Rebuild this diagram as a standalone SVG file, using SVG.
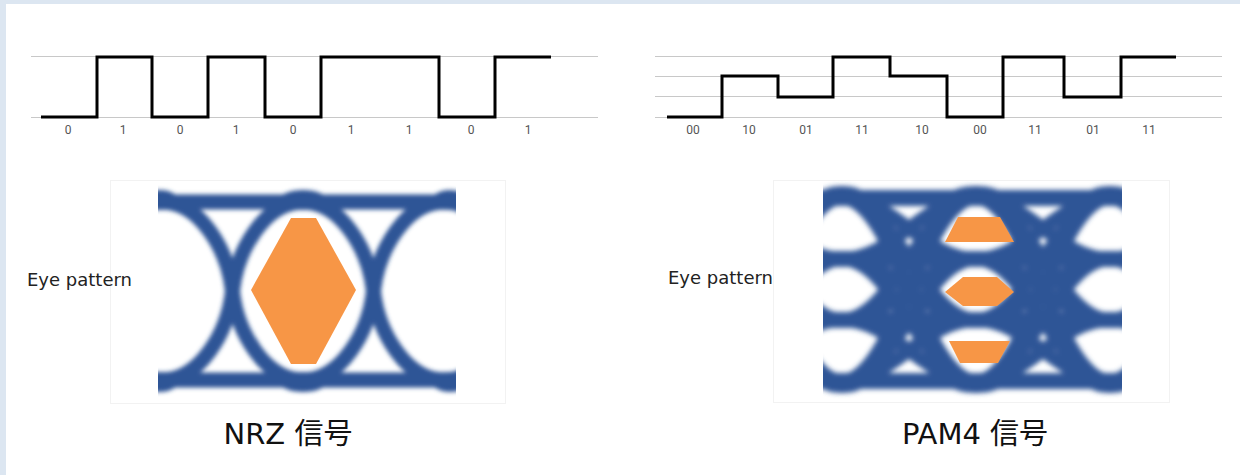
<svg xmlns="http://www.w3.org/2000/svg" xmlns:xlink="http://www.w3.org/1999/xlink" width="1240" height="475" viewBox="0 0 1240 475">
<style>
.grid{stroke:#c8c8c8;stroke-width:1;fill:none}
.wave{stroke:#000;stroke-width:3;fill:none;stroke-linejoin:miter}
.bit{font-family:Roboto,"Liberation Sans",sans-serif;font-size:12px;fill:#555;text-anchor:middle}
.lbl{font-family:"DejaVu Sans","Liberation Sans",sans-serif;font-size:18px;fill:#222}
.title{font-family:"DejaVu Sans","Noto Sans CJK JP",sans-serif;font-size:29px;fill:#111;text-anchor:middle}
.eye{stroke:#2e5596;fill:none}
.eyefill{fill:#2e5596}
.eyebox{fill:#fff;stroke:#f2f2f2;stroke-width:1}
.open{fill:#f79646}
</style>
<defs>
<filter id="blur" x="-5%" y="-5%" width="110%" height="110%"><feGaussianBlur stdDeviation="2"/></filter>
<filter id="blur2" x="-5%" y="-5%" width="110%" height="110%"><feGaussianBlur stdDeviation="2.4"/></filter>
<clipPath id="clipNrz"><rect x="158" y="180" width="298" height="220"/></clipPath>
<clipPath id="clipPam"><rect x="823" y="180" width="299" height="220"/></clipPath>
<g id="nrzSeg" class="eye" stroke-width="15">
<path d="M0,202 C38,202 66,250 70.5,291 C75,332 103,380 141,380"/>
<path d="M0,380 C38,380 66,332 70.5,291 C75,250 103,202 141,202"/>
</g>
<g id="pamSeg" class="eye" stroke-width="14">
<path d="M0,198 C52,198 82,259 134,259"/>
<path d="M0,198 C52,198 82,320 134,320"/>
<path d="M0,198 C52,198 82,381 134,381"/>
<path d="M0,259 C52,259 82,198 134,198"/>
<path d="M0,259 C52,259 82,320 134,320"/>
<path d="M0,259 C52,259 82,381 134,381"/>
<path d="M0,320 C52,320 82,198 134,198"/>
<path d="M0,320 C52,320 82,259 134,259"/>
<path d="M0,320 C52,320 82,381 134,381"/>
<path d="M0,381 C52,381 82,198 134,198"/>
<path d="M0,381 C52,381 82,259 134,259"/>
<path d="M0,381 C52,381 82,320 134,320"/>
</g>
</defs>
<rect x="0" y="0" width="1240" height="475" fill="#dce6f1"/>
<rect x="6" y="4" width="1234" height="471" fill="#fff"/>

<g id="nrz-wave">
<line class="grid" x1="31" y1="56.5" x2="598" y2="56.5"/>
<line class="grid" x1="31" y1="117.5" x2="598" y2="117.5"/>
<polyline class="wave" points="41,117 97,117 97,57 152,57 152,117 208,117 208,57 265,57 265,117 321,117 321,57 377,57 439,57 439,117 495,117 495,57 551,57"/>
<text class="bit" x="68" y="134">0</text>
<text class="bit" x="123" y="134">1</text>
<text class="bit" x="180" y="134">0</text>
<text class="bit" x="236" y="134">1</text>
<text class="bit" x="293" y="134">0</text>
<text class="bit" x="351" y="134">1</text>
<text class="bit" x="409" y="134">1</text>
<text class="bit" x="471" y="134">0</text>
<text class="bit" x="528" y="134">1</text>
</g>

<g id="pam4-wave">
<line class="grid" x1="655" y1="56.5" x2="1222" y2="56.5"/>
<line class="grid" x1="655" y1="76.5" x2="1222" y2="76.5"/>
<line class="grid" x1="655" y1="96.5" x2="1222" y2="96.5"/>
<line class="grid" x1="655" y1="117.5" x2="1222" y2="117.5"/>
<polyline class="wave" points="667,117 722,117 722,76 778,76 778,97 833,97 833,57 890,57 890,76 947,76 947,117 1003,117 1003,57 1064,57 1064,97 1121,97 1121,57 1176,57"/>
<text class="bit" x="693" y="134">00</text>
<text class="bit" x="749" y="134">10</text>
<text class="bit" x="806" y="134">01</text>
<text class="bit" x="862" y="134">11</text>
<text class="bit" x="922" y="134">10</text>
<text class="bit" x="980" y="134">00</text>
<text class="bit" x="1035" y="134">11</text>
<text class="bit" x="1093" y="134">01</text>
<text class="bit" x="1149" y="134">11</text>
</g>

<g id="nrz-eye">
<rect class="eyebox" x="110.5" y="180.5" width="395" height="223"/>
<g clip-path="url(#clipNrz)">
<g filter="url(#blur)">
<line class="eye" stroke-width="15" x1="140" y1="202" x2="480" y2="202"/>
<line class="eye" stroke-width="15" x1="140" y1="380" x2="480" y2="380"/>
<ellipse class="eyefill" cx="303" cy="200" rx="24" ry="10"/>
<ellipse class="eyefill" cx="303" cy="382" rx="24" ry="10"/>
<ellipse class="eyefill" cx="160" cy="200" rx="18" ry="10"/>
<ellipse class="eyefill" cx="160" cy="382" rx="18" ry="10"/>
<ellipse class="eyefill" cx="450" cy="200" rx="18" ry="10"/>
<ellipse class="eyefill" cx="450" cy="382" rx="18" ry="10"/>
<use xlink:href="#nrzSeg" x="21"/>
<use xlink:href="#nrzSeg" x="162"/>
<use xlink:href="#nrzSeg" x="303"/>
<use xlink:href="#nrzSeg" x="444"/>
</g>
</g>
<polygon class="open" points="291,218 316,218 356,290 316,364 291,364 251,290"/>
<text class="lbl" x="27" y="286">Eye pattern</text>
</g>

<g id="pam4-eye">
<rect class="eyebox" x="773.5" y="180.5" width="396" height="222"/>
<g clip-path="url(#clipPam)">
<g filter="url(#blur2)">
<line class="eye" stroke-width="16" x1="800" y1="198" x2="1140" y2="198"/>
<line class="eye" stroke-width="16" x1="800" y1="259" x2="1140" y2="259"/>
<line class="eye" stroke-width="16" x1="800" y1="320" x2="1140" y2="320"/>
<line class="eye" stroke-width="16" x1="800" y1="381" x2="1140" y2="381"/>
<ellipse class="eyefill" cx="976" cy="196" rx="28" ry="10"/>
<ellipse class="eyefill" cx="976" cy="383" rx="28" ry="10"/>
<ellipse class="eyefill" cx="842" cy="196" rx="24" ry="10"/>
<ellipse class="eyefill" cx="842" cy="383" rx="24" ry="10"/>
<ellipse class="eyefill" cx="1110" cy="196" rx="24" ry="10"/>
<ellipse class="eyefill" cx="1110" cy="383" rx="24" ry="10"/>
<use xlink:href="#pamSeg" x="708"/>
<use xlink:href="#pamSeg" x="842"/>
<use xlink:href="#pamSeg" x="976"/>
<use xlink:href="#pamSeg" x="1110"/>
</g>
</g>
<polygon class="open" points="958,217 1000,217 1014,242 945,242"/>
<polygon class="open" points="963,277 997,277 1014,292 997,306 963,306 945,292"/>
<polygon class="open" points="949,341 1010,341 998,363 960,363"/>
<text class="lbl" x="668" y="284">Eye pattern</text>
</g>

<g id="titles">
<text class="title" x="288" y="444">NRZ 信号</text>
<text class="title" x="975" y="444">PAM4 信号</text>
</g>
</svg>
